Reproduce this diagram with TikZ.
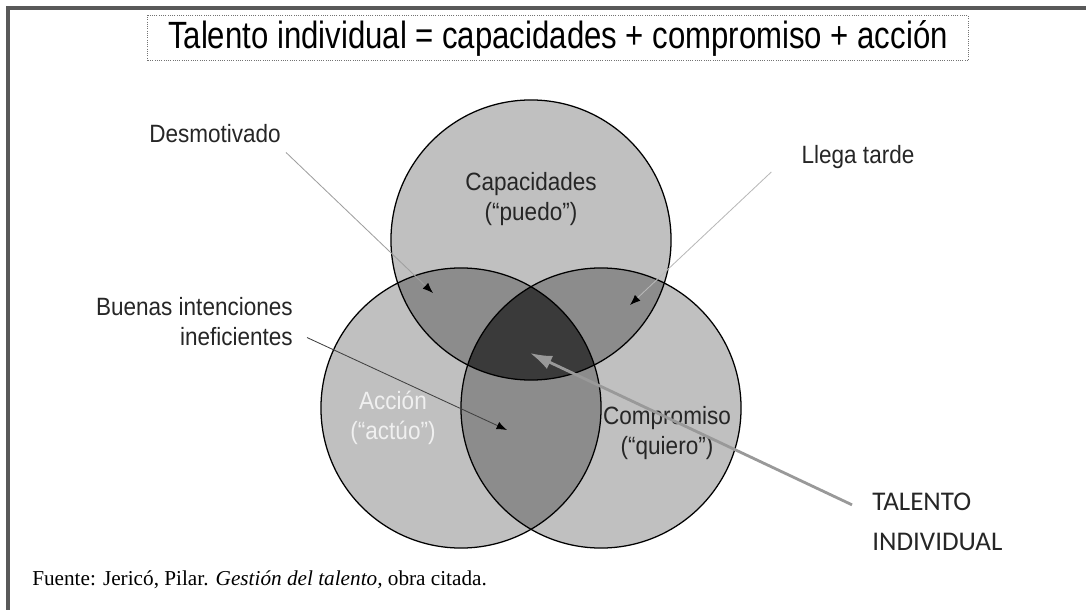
\documentclass[tikz,border=0pt]{standalone}
\usepackage{fontspec}
\setmainfont{Liberation Serif}
\newfontfamily\titlefont[FakeStretch=0.82]{Liberation Sans}
\newfontfamily\labelfont[FakeStretch=0.9]{Liberation Sans}
\newfontfamily\callfont{Carlito}
\usetikzlibrary{arrows.meta, positioning}

\definecolor{lightfill}{RGB}{192,192,192}
\definecolor{pairfill}{RGB}{140,140,140}
\definecolor{corefill}{RGB}{58,58,58}

\begin{document}
\begin{tikzpicture}[
    x=0.025cm, y=-0.025cm,
    >=Latex,
    frame/.style={draw=black!65, line width=2.2pt},
    titlebox/.style={draw=black!55, densely dotted, line width=0.6pt, minimum width=20.5cm, minimum height=1.03cm, font=\titlefont\fontsize{27}{32}\selectfont},
    labeltext/.style={inner sep=0, font=\labelfont\fontsize{17.8}{21.4}\selectfont, text=black!85, align=center},
    callout/.style={inner sep=0, font=\callfont\fontsize{19.2}{28.5}\selectfont, text=black!85, align=left},
    ring/.style={draw=black, line width=0.9pt},
    pointer/.style={draw=gray!75, line width=0.6pt, -{Latex[color=black, length=2.6mm, width=2mm]}},
    bigpointer/.style={draw=gray!80, line width=2pt, -{Latex[length=5.5mm, width=3.6mm]}}
]
\useasboundingbox (0,0) rectangle (1086,610);

% -------------------------------------------------------------------------
% Frame and title
% -------------------------------------------------------------------------
\draw[frame] (8,610) -- (8,8) -- (1086,8);
\node[titlebox] (title) at (558,38) {Talento individual = capacidades + compromiso + acción};

% -------------------------------------------------------------------------
% The three circles (centres)
% -------------------------------------------------------------------------
\def\rad{3.5cm}
\coordinate (cap) at (531,240);
\coordinate (acc) at (461,408);
\coordinate (com) at (601,408);

% single regions
\fill[lightfill] (cap) circle (\rad);
\fill[lightfill] (acc) circle (\rad);
\fill[lightfill] (com) circle (\rad);

% pairwise overlaps
\begin{scope}
    \clip (cap) circle (\rad);
    \fill[pairfill] (acc) circle (\rad);
    \fill[pairfill] (com) circle (\rad);
\end{scope}
\begin{scope}
    \clip (acc) circle (\rad);
    \fill[pairfill] (com) circle (\rad);
\end{scope}

% triple overlap
\begin{scope}
    \clip (cap) circle (\rad);
    \clip (acc) circle (\rad);
    \fill[corefill] (com) circle (\rad);
\end{scope}

% outlines
\draw[ring] (cap) circle (\rad);
\draw[ring] (acc) circle (\rad);
\draw[ring] (com) circle (\rad);

% -------------------------------------------------------------------------
% Texts
% -------------------------------------------------------------------------
\node[labeltext] (capac) at (531,199) {Capacidades\\(“puedo”)};
\node[labeltext, text=black!6] (accion) at (393,418) {Acción\\(“actúo”)};
\node[labeltext] (compr) at (667,433) {Compromiso\\(“quiero”)};

\node[labeltext] (desm) at (215,134) {Desmotivado};
\node[labeltext] (llega) at (858,157) {Llega tarde};
\node[labeltext, align=right, anchor=east] (buenas) at (293,322) {Buenas intenciones\\ineficientes};
\node[callout, anchor=west] (talento) at (872,522) {TALENTO\\INDIVIDUAL};

\node[anchor=base west, inner sep=0, font=\fontsize{15.1}{18}\selectfont] (fuente) at (32,585)
    {Fuente: Jericó, Pilar. \textit{Gestión del talento,} obra citada.};

% -------------------------------------------------------------------------
% Pointers into the regions
% -------------------------------------------------------------------------
\coordinate (desmtip) at (433,293);
\coordinate (llegatip) at (630,305);
\coordinate (buenastip) at (507,430);
\coordinate (coretip) at (530,353);

\draw[pointer] ([shift={(5,9)}]desm.south east) -- (desmtip);
\draw[pointer, draw=gray!55] ([shift={(-30,3)}]llega.south west) -- (llegatip);
\draw[pointer, draw=black!75] ([shift={(14,-9)}]buenas.south east) -- (buenastip);
\draw[bigpointer] ([shift={(-20,12)}]talento.north west) -- (coretip);

\end{tikzpicture}
\end{document}
